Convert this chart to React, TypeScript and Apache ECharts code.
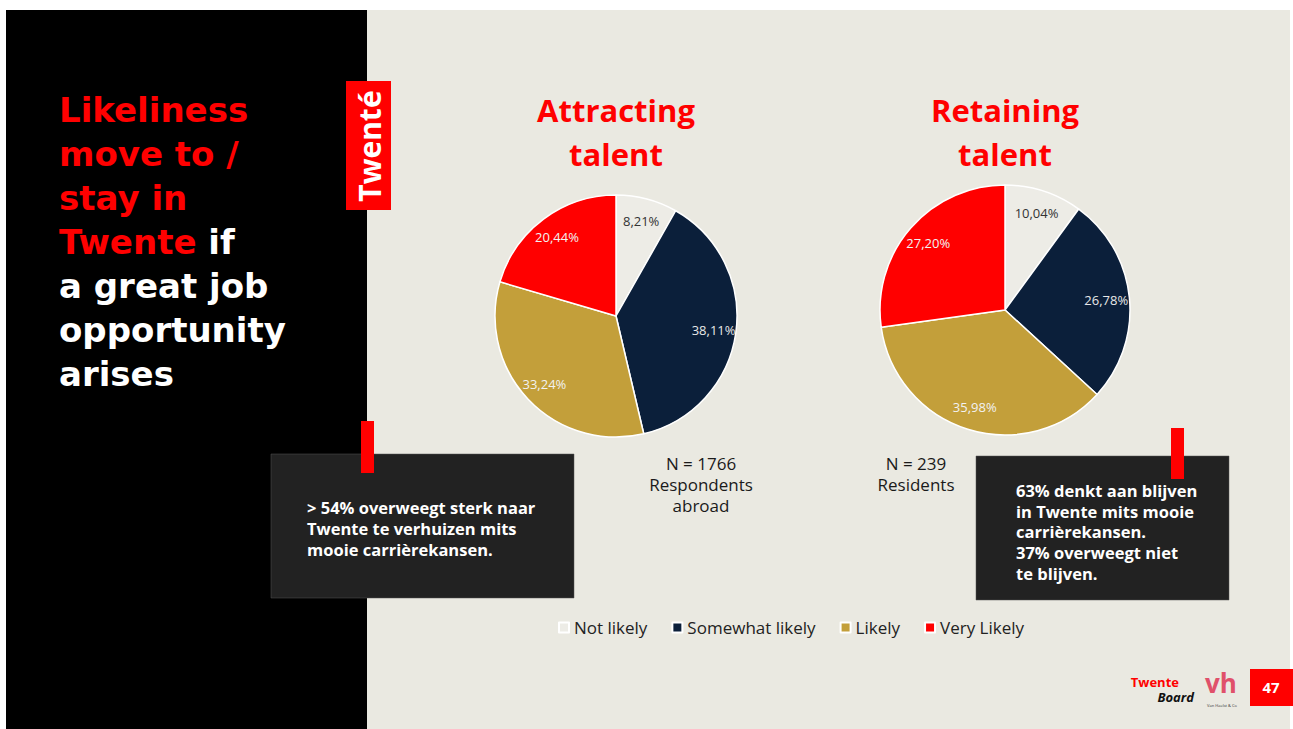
import React, { useEffect, useRef } from "react";
import * as echarts from "echarts";

const categories = ["Not likely", "Somewhat likely", "Likely", "Very Likely"];
const attracting = [8.21, 38.11, 33.24, 20.44];
const retaining = [10.04, 26.78, 35.98, 27.2];
const sliceColors = ["#EDECE6", "#0B1F3A", "#C39F3A", "#FF0000"];
const labelColors = ["#333333", "#E8E8E8", "#F2F2F2", "#F2F2F2"];

const FONT = "'Open Sans', 'Noto Sans', sans-serif";
const TITLE_FONT = "'DejaVu Sans', 'Open Sans', sans-serif";

function fmt(v: number) {
  return v.toFixed(2).replace(".", ",") + "%";
}

function pieSeries(values: number[], center: number[], r: number, id: string) {
  const data = categories.map((c, i) => ({
    name: c,
    value: values[i],
    itemStyle: { color: sliceColors[i] },
  }));
  const labelData = categories.map((c, i) => ({
    name: c,
    value: values[i],
    label: { color: labelColors[i] },
  }));
  return [
    {
      type: "pie",
      id: id,
      center: center,
      radius: [0, r],
      startAngle: 90,
      clockwise: true,
      data: data,
      label: { show: false },
      labelLine: { show: false },
      itemStyle: { borderColor: "#FFFFFF", borderWidth: 1.5 },
      emphasis: { disabled: true },
    },
    {
      type: "pie",
      id: id + "-labels",
      center: center,
      radius: [r * 0.58, r],
      startAngle: 90,
      clockwise: true,
      silent: true,
      legendHoverLink: false,
      data: labelData,
      itemStyle: { color: "rgba(0,0,0,0)" },
      label: {
        show: true,
        position: "inside",
        formatter: (p: any) => fmt(p.value),
        fontFamily: FONT,
        fontSize: 13,
      },
      labelLine: { show: false },
      emphasis: { disabled: true },
    },
  ];
}

export default function App() {
  const ref = useRef<HTMLDivElement>(null);
  useEffect(() => {
    if (!ref.current) return;
    const chart = echarts.init(ref.current, null, { renderer: "svg" });
    const option: any = {
      animation: false,
      backgroundColor: "#FFFFFF",
      legend: {
        data: categories.map((c, i) =>
          i === 0
            ? { name: c, itemStyle: { color: "#EDECE6", borderColor: "#FFFFFF", borderWidth: 2 } }
            : { name: c }
        ),
        left: 553,
        top: 614,
        itemWidth: 10,
        itemHeight: 10,
        itemGap: 24,
        icon: "rect",
        selectedMode: false,
        textStyle: { fontFamily: FONT, fontSize: 17, color: "#222222" },
      },
      graphic: [
        { type: "rect", z: -10, shape: { x: 6, y: 10, width: 361, height: 719 }, style: { fill: "#000000" } },
        { type: "rect", z: -10, shape: { x: 367, y: 10, width: 923, height: 719 }, style: { fill: "#EAE9E1" } },
        // Twente badge
        { type: "rect", z: 5, shape: { x: 346, y: 81, width: 45, height: 129 }, style: { fill: "#FF0000" } },
        {
          type: "text", z: 6, x: 369, y: 146, rotation: Math.PI / 2,
          style: { text: "Twenté", fill: "#FFFFFF", font: `bold 30px ${FONT}`, align: "center", verticalAlign: "middle" },
        },
        // Left title
        {
          type: "text", z: 6, x: 59, y: 88,
          style: {
            text: "{r|Likeliness}\n{r|move to /}\n{r|stay in}\n{r|Twente} {w|if}\n{w|a great job}\n{w|opportunity}\n{w|arises}",
            font: `bold 34px ${TITLE_FONT}`,
            lineHeight: 44,
            rich: {
              r: { fill: "#FF0000", font: `bold 34px ${TITLE_FONT}`, lineHeight: 44 },
              w: { fill: "#FFFFFF", font: `bold 34px ${TITLE_FONT}`, lineHeight: 44 },
            },
          },
        },
        // Pie titles
        {
          type: "text", z: 6, x: 616, y: 88,
          style: { text: "Attracting\ntalent", fill: "#FF0000", font: `bold 31px ${FONT}`, lineHeight: 44, align: "center" },
        },
        {
          type: "text", z: 6, x: 1005, y: 88,
          style: { text: "Retaining\ntalent", fill: "#FF0000", font: `bold 31px ${FONT}`, lineHeight: 44, align: "center" },
        },
        // N labels
        {
          type: "text", z: 6, x: 701, y: 453,
          style: { text: "N = 1766\nRespondents\nabroad", fill: "#1A1A1A", font: `17px ${FONT}`, lineHeight: 21, align: "center" },
        },
        {
          type: "text", z: 6, x: 916, y: 453,
          style: { text: "N = 239\nResidents", fill: "#1A1A1A", font: `17px ${FONT}`, lineHeight: 21, align: "center" },
        },
        // Box 1
        { type: "rect", z: 5, shape: { x: 271, y: 454, width: 303, height: 144 }, style: { fill: "#222222", stroke: "#555555", lineWidth: 0.5 } },
        { type: "rect", z: 6, shape: { x: 361, y: 421, width: 13, height: 52 }, style: { fill: "#FF0000" } },
        {
          type: "text", z: 7, x: 307, y: 497,
          style: {
            text: "> 54% overweegt sterk naar\nTwente te verhuizen mits\nmooie carrièrekansen.",
            fill: "#FFFFFF", font: `bold 16.5px ${FONT}`, lineHeight: 21,
          },
        },
        // Box 2
        { type: "rect", z: 5, shape: { x: 976, y: 456, width: 253, height: 144 }, style: { fill: "#222222", stroke: "#555555", lineWidth: 0.5 } },
        { type: "rect", z: 6, shape: { x: 1171, y: 428, width: 13, height: 51 }, style: { fill: "#FF0000" } },
        {
          type: "text", z: 7, x: 1016, y: 480,
          style: {
            text: "63% denkt aan blijven\nin Twente mits mooie\ncarrièrekansen.\n37% overweegt niet\nte blijven.",
            fill: "#FFFFFF", font: `bold 16.5px ${FONT}`, lineHeight: 20.75,
          },
        },
        // Bottom right branding
        {
          type: "text", z: 6, x: 1179, y: 682,
          style: { text: "Twente", fill: "#FF0000", font: `bold 13px ${FONT}`, align: "right", verticalAlign: "middle" },
        },
        {
          type: "text", z: 6, x: 1194, y: 697,
          style: { text: "Board", fill: "#111111", font: `italic bold 13px ${FONT}`, align: "right", verticalAlign: "middle" },
        },
        {
          type: "text", z: 6, x: 1221, y: 683,
          style: { text: "vh", fill: "#E0506A", font: `bold 26px ${FONT}`, align: "center", verticalAlign: "middle" },
        },
        {
          type: "text", z: 6, x: 1222, y: 705,
          style: { text: "Van Haelst & Co", fill: "#333333", font: `4px ${FONT}`, align: "center", verticalAlign: "middle" },
        },
        { type: "rect", z: 5, shape: { x: 1250, y: 669, width: 43, height: 37 }, style: { fill: "#FF0000" } },
        {
          type: "text", z: 6, x: 1271, y: 687,
          style: { text: "47", fill: "#FFFFFF", font: `bold 15px ${FONT}`, align: "center", verticalAlign: "middle" },
        },
      ],
      series: [
        ...pieSeries(attracting, [616, 316], 121, "attracting"),
        ...pieSeries(retaining, [1005, 310], 125, "retaining"),
      ],
    };
    chart.setOption(option);
    return () => chart.dispose();
  }, []);
  return (
    <div
      ref={ref}
      style={{ position: "fixed", left: 0, top: 0, width: 1293, height: 729 }}
    />
  );
}
